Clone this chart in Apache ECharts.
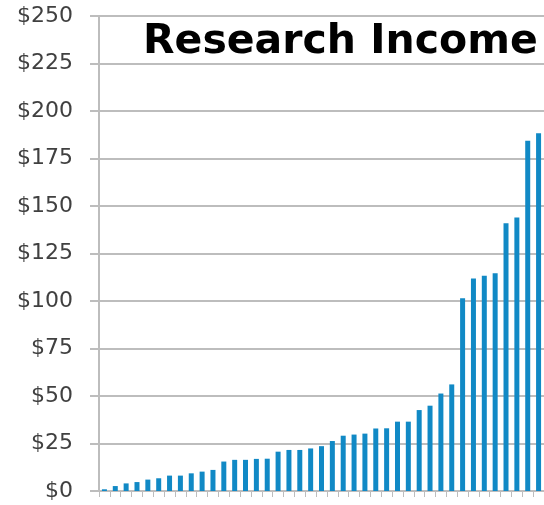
<!DOCTYPE html>
<html>
<head>
<meta charset="utf-8">
<script src="https://cdn.jsdelivr.net/npm/echarts@6/dist/echarts.min.js"></script>
<style>
  html, body { margin: 0; padding: 0; background: #ffffff; }
  #chart { width: 544px; height: 505px; }
</style>
</head>
<body>
<div id="chart"></div>
<script>
// Research income per institution, sorted ascending (in $ millions)
const titleText = 'Research Income';
const institutions = Array.from({ length: 41 }, (_, i) => 'Inst ' + (i + 1));
const income = [
  0.9, 2.6, 4.0, 4.7, 6.0, 6.7, 8.1, 8.1, 9.3, 10.2,
  11.1, 15.5, 16.4, 16.4, 16.9, 17.0, 20.7, 21.6, 21.6, 22.4,
  23.6, 26.3, 29.1, 29.7, 30.2, 32.9, 33.0, 36.5, 36.5, 42.6,
  44.9, 51.3, 56.1, 101.4, 111.9, 113.3, 114.6, 140.9, 143.9, 184.4,
  188.3
];
const yMin = 0, yMax = 250, yStep = 25;

const chart = echarts.init(document.getElementById('chart'), null, { renderer: 'canvas' });
const gray = '#bdbdbd';

chart.setOption({
  animation: false,
  backgroundColor: '#ffffff',
  title: {
    text: titleText,
    left: 143,
    top: 22,
    padding: 0,
    textStyle: {
      fontFamily: 'DejaVu Sans',
      fontWeight: 'bold',
      fontSize: 41,
      color: '#000000'
    }
  },
  grid: { left: 99, right: 0, top: 16, bottom: 14, containLabel: false },
  xAxis: {
    type: 'category',
    data: institutions,
    boundaryGap: true,
    axisLine: { show: true, lineStyle: { color: gray, width: 2 } },
    axisTick: { show: true, length: 6, interval: 0, lineStyle: { color: gray, width: 1 } },
    axisLabel: { show: false },
    splitLine: { show: false }
  },
  yAxis: {
    type: 'value',
    min: yMin,
    max: yMax,
    interval: yStep,
    axisLine: { show: true, lineStyle: { color: gray, width: 2 } },
    axisTick: { show: true, length: 9, lineStyle: { color: gray, width: 2 } },
    axisLabel: {
      margin: 26,
      fontFamily: 'DejaVu Sans',
      fontSize: 22,
      color: '#404040',
      formatter: v => '$' + v
    },
    splitLine: { show: true, lineStyle: { color: gray, width: 2 } }
  },
  series: [{
    type: 'bar',
    data: income,
    barWidth: 5,
    itemStyle: { color: '#1189c5' }
  }]
});
</script>
</body>
</html>
